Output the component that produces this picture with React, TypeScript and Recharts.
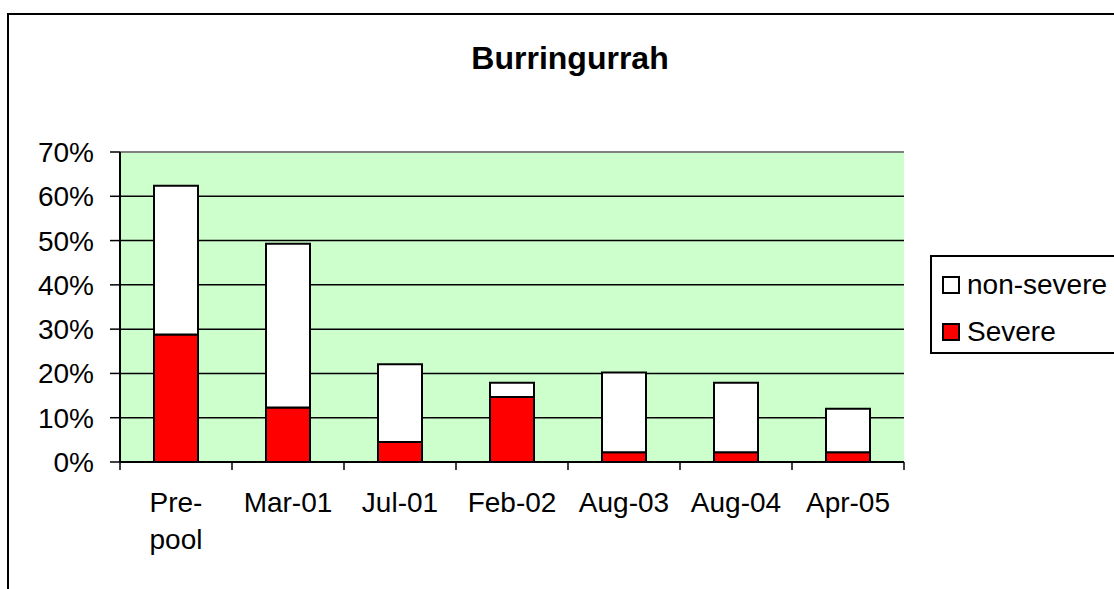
import React from "react";
import { BarChart, Bar, XAxis, YAxis, CartesianGrid, Legend, ReferenceLine } from "recharts";

const FONT = '"Liberation Sans", Arial, sans-serif';

// in percent
const categories = ["Pre-pool", "Mar-01", "Jul-01", "Feb-02", "Aug-03", "Aug-04", "Apr-05"];
const severe = [28.8, 12.3, 4.5, 14.7, 2.2, 2.2, 2.2];
const nonSevere = [33.6, 37.0, 17.6, 3.2, 18.0, 15.7, 9.8];
const yTicks = [0, 10, 20, 30, 40, 50, 60, 70];

const data = categories.map((name, i) => ({
  name,
  severe: severe[i],
  nonSevere: nonSevere[i],
}));

// Excel wrapped "Pre-pool" after the hyphen; tick marks sit between categories
const CategoryTick = (props: any) => {
  const { x, y, payload, index, width } = props;
  const half = width / categories.length / 2;
  const lines: string[] = String(payload.value).split(/(?<=-)(?=[a-z])/);
  return (
    <g>
      <line x1={x - half} x2={x - half} y1={y} y2={y + 8} stroke="#000" strokeWidth={1.5} />
      {index === categories.length - 1 && (
        <line x1={x + half} x2={x + half} y1={y} y2={y + 8} stroke="#000" strokeWidth={1.5} />
      )}
      <text x={x} y={y} textAnchor="middle" fontSize={28} fontFamily={FONT} fill="#000">
        {lines.map((line, i) => (
          <tspan key={i} x={x} dy={i === 0 ? 50 : 37}>
            {line}
          </tspan>
        ))}
      </text>
    </g>
  );
};

const renderLegend = (props: any) => {
  const items = [...(props.payload || [])].reverse();
  return (
    <div
      style={{
        position: "relative",
        width: 200,
        height: 99,
        boxSizing: "border-box",
        border: "2px solid #000",
        background: "#fff",
        fontFamily: FONT,
        fontSize: 28,
        color: "#000",
      }}
    >
      {items.map((entry: any, i: number) => (
        <div
          key={entry.value}
          style={{ position: "absolute", left: 10, top: 11 + i * 47, height: 34, display: "flex", alignItems: "center" }}
        >
          <span
            style={{
              display: "inline-block",
              width: 14,
              height: 14,
              border: "2px solid #000",
              background: entry.color,
              marginRight: 7,
            }}
          />
          <span style={{ lineHeight: "34px" }}>{entry.value}</span>
        </div>
      ))}
    </div>
  );
};

export default function App() {
  return (
    <div style={{ position: "absolute", left: 0, top: 0, width: 1114, height: 589, overflow: "hidden", background: "#fff" }}>
      <div
        style={{
          position: "absolute",
          left: 7,
          top: 13,
          width: 1200,
          height: 700,
          borderLeft: "2px solid #000",
          borderTop: "2px solid #000",
        }}
      />
      <div
        style={{
          position: "absolute",
          left: 370,
          width: 400,
          top: 42,
          textAlign: "center",
          fontFamily: FONT,
          fontWeight: "bold",
          fontSize: 32,
          lineHeight: "32px",
          color: "#000",
        }}
      >
        Burringurrah
      </div>
      <div style={{ position: "absolute", left: 0, top: 0 }}>
        <BarChart
          width={1114}
          height={589}
          data={data}
          margin={{ top: 152, right: 210, bottom: 0, left: 0 }}
          barSize={44}
        >
          <CartesianGrid vertical={false} stroke="#000" strokeWidth={1.5} fill="#CCFFCC" fillOpacity={1} yAxisId="left" />
          <XAxis
            dataKey="name"
            tick={<CategoryTick />}
            tickLine={false}
            tickSize={0}
            tickMargin={0}
            axisLine={{ stroke: "#000", strokeWidth: 2 }}
            height={127}
            interval={0}
          />
          <YAxis
            yAxisId="left"
            domain={[0, 70]}
            ticks={yTicks}
            tickFormatter={(v: number) => `${v}%`}
            tick={{ fontSize: 28, fontFamily: FONT, fill: "#000" }}
            tickLine={{ stroke: "#000", strokeWidth: 1.5 }}
            tickSize={10}
            tickMargin={16}
            axisLine={{ stroke: "#000", strokeWidth: 2 }}
            width={120}
          />
          <YAxis
            yAxisId="right"
            orientation="right"
            domain={[0, 70]}
            tick={false}
            tickLine={false}
            axisLine={{ stroke: "#808080", strokeWidth: 2 }}
            width={0}
          />
          <ReferenceLine yAxisId="left" y={70} stroke="#808080" strokeWidth={2} />
          <Legend
            layout="horizontal"
            align="center"
            verticalAlign="middle"
            content={renderLegend}
            wrapperStyle={{ left: 930, top: 255, width: 200 }}
          />
          <Bar
            dataKey="severe"
            name="Severe"
            stackId="a"
            yAxisId="left"
            fill="#FF0000"
            stroke="#000"
            strokeWidth={2}
            isAnimationActive={false}
          />
          <Bar
            dataKey="nonSevere"
            name="non-severe"
            stackId="a"
            yAxisId="left"
            fill="#FFFFFF"
            stroke="#000"
            strokeWidth={2}
            isAnimationActive={false}
          />
        </BarChart>
      </div>
    </div>
  );
}
